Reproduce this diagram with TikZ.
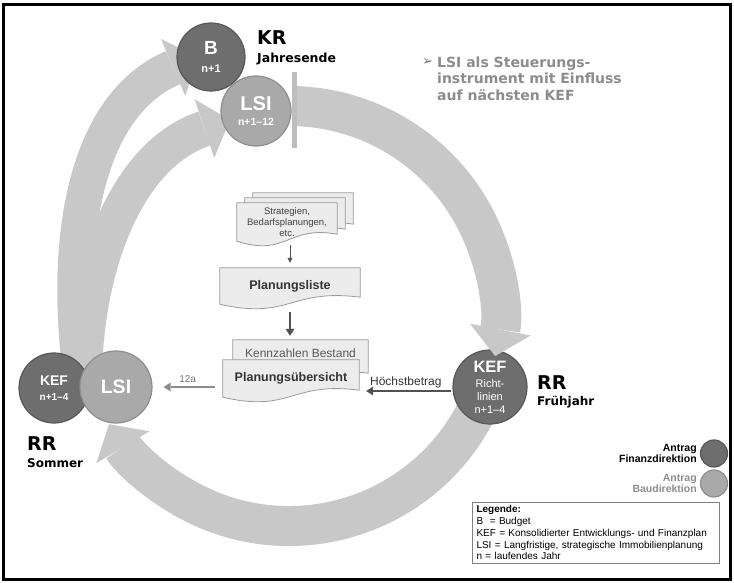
\documentclass[tikz,border=0pt]{standalone}
\usepackage{fontspec}
\setmainfont{Liberation Sans}
\newfontfamily\verd{DejaVu Sans}
\usetikzlibrary{arrows.meta}
\usetikzlibrary{calc}
\usetikzlibrary{positioning}
\usetikzlibrary{backgrounds}

\definecolor{fdgray}{HTML}{6E6E6E}
\definecolor{fdedge}{HTML}{575757}
\definecolor{bdgray}{HTML}{A9A9A9}
\definecolor{bdedge}{HTML}{8E8E8E}
\definecolor{bandgray}{HTML}{C8C8C8}
\definecolor{bargray}{HTML}{BEBEBE}
\definecolor{docfill}{HTML}{ECECEC}
\definecolor{docedge}{HTML}{9A9A9A}
\definecolor{notegray}{HTML}{8C8C8C}

\tikzset{
  fdball/.style={circle, fill=fdgray, draw=fdedge, line width=1.2pt, text=white, align=center, inner sep=0pt, minimum size=#1},
  bdball/.style={circle, fill=bdgray, draw=bdedge, line width=1.2pt, text=white, align=center, inner sep=0pt, minimum size=#1},
  band/.style={draw=bandgray, line width=38pt, -{Triangle[width=62pt,length=27pt,line width=0pt]}},
  sheet/.style={minimum width=#1, inner sep=0pt, align=center},
  sheetline/.style={fill=docfill, draw=docedge, line width=0.8pt},
  flowarrow/.style={draw=black!68, line width=2.4pt, -{Triangle[width=9pt,length=7pt,line width=0pt]}},
  thinarrow/.style={draw=black!68, line width=0.9pt, -{Triangle[width=5pt,length=5pt,line width=0pt]}},
  tag/.style={anchor=base west, inner sep=0pt, font=\verd\bfseries},
}

% wavy sheet behind a node, #1 = extra drop of the lower edge
\newcommand\blatt[2][0]{%
  \begin{scope}[on background layer]
    \filldraw[sheetline] (#2.north west) -- (#2.north east) -- ($(#2.south east)+(0,#1-7)$)
      .. controls ($(#2.south)+(0,#1-16)$) and ($(#2.south)+(0,#1+16)$) .. ($(#2.south west)+(0,#1)$) -- cycle;
  \end{scope}}

\begin{document}
\begin{tikzpicture}[x=1pt, y=-1pt]
\useasboundingbox (0,0) rectangle (734,583);
\draw[line width=3pt] (3.5,4.5) rectangle (730.5,579.5);

\coordinate (ctr) at (289,316);

% Pfeile links und unten
\draw[band, line width=36pt] (82,382) .. controls (62,240) and (85,105) .. (198,57);
\draw[band, line width=36pt] (84,382) .. controls (84,270) and (125,155) .. (230,120);
\draw[band, line width=40pt] ($(ctr)+(25:210)$) arc[start angle=25, end angle=149, radius=210];

% Kreise
\node[fdball=68pt, font=\bfseries\fontsize{11}{13}\selectfont] (bud) at (211,57) {{\fontsize{19}{19}\selectfont B}\\[5pt]n+1};
\node[bdball=70pt, font=\bfseries\fontsize{10.5}{12.5}\selectfont] (lsiT) at (256,111) {{\fontsize{20}{20}\selectfont LSI}\\[2.5pt]n+1–12};
\node[fdball=70pt, font=\bfseries\fontsize{10}{12}\selectfont] (kefL) at (54,388) {{\fontsize{14}{14}\selectfont KEF}\\[3pt]n+1–4};
\node[bdball=72pt, font=\bfseries] (lsiL) at (116,387) {{\fontsize{19.5}{19.5}\selectfont LSI}};
\node[fdball=74pt, font=\fontsize{11}{13}\selectfont] (kefR) at (490,387) {{\bfseries\fontsize{16.5}{16.5}\selectfont KEF}\\[2pt]Richt-\\linien\\n+1–4};

% Bogen rechts
\draw[band, line width=40pt] ($(ctr)+(-88:210)$) arc[start angle=-88, end angle=11, radius=210];
\fill[bargray] (292,72) rectangle (297,148);

% Zeitpunkte
\node[tag, font=\verd\bfseries\fontsize{19}{19}\selectfont] (krtitel) at (257,45) {KR};
\node[tag, font=\verd\bfseries\fontsize{12.5}{14}\selectfont] (krzeit) at (257,63) {Jahresende};
\node[tag, font=\verd\bfseries\fontsize{19}{19}\selectfont] (rrtitel) at (537,389) {RR};
\node[tag, font=\verd\bfseries\fontsize{12}{14}\selectfont] (rrzeit) at (537,405) {Frühjahr};
\node[tag, font=\verd\bfseries\fontsize{19}{19}\selectfont] (sotitel) at (27,450) {RR};
\node[tag, font=\verd\bfseries\fontsize{12}{14}\selectfont] (sozeit) at (27,467) {Sommer};

% Hinweis
\node[inner sep=0pt, text=black!55, font=\verd\fontsize{13}{13}\selectfont] (pfeil) at (427.5,62) {➢};
\node[anchor=north west, inner sep=0pt, align=left, text=notegray, font=\verd\bfseries\fontsize{14}{16.5}\selectfont] (hinweis) at (437,56.5) {LSI als Steuerungs-\\instrument mit Einfluss\\auf nächsten KEF};

% Planungsablauf
\node[sheet=100pt, minimum height=38pt] (strat3) at (303,212) {};
\blatt{strat3}
\node[sheet=100pt, minimum height=38pt] (strat2) at (295,217) {};
\blatt{strat2}
\node[sheet=100pt, minimum height=38pt, text=black!75, font=\fontsize{9.5}{11}\selectfont] (strat) at (287,222) {Strategien,\\Bedarfsplanungen,\\etc.};
\blatt{strat}
\node[sheet=140pt, minimum height=36pt, text=black!80, font=\bfseries\fontsize{12.5}{14}\selectfont] (liste) at (290,286) {Planungsliste};
\blatt{liste}
\node[sheet=135pt, minimum height=26pt, text=black!65, font=\fontsize{12}{14}\selectfont] (bestand) at (300.5,353) {Kennzahlen Bestand};
\blatt[14]{bestand}
\node[sheet=136pt, minimum height=37pt, text=black!80, font=\bfseries\fontsize{12.5}{14}\selectfont] (uebersicht) at (291,378.5) {Planungsübersicht};
\blatt{uebersicht}

\draw[thinarrow, shorten <=4pt, shorten >=5pt] (liste.north |- strat.south) -- (liste.north);
\draw[flowarrow, shorten <=8pt, shorten >=4pt] (liste.south) -- (liste.south |- bestand.north);
\coordinate (hb) at ([yshift=-4pt]kefR.west);
\draw[flowarrow, shorten <=1pt, shorten >=7pt] (hb) -- (hb -| uebersicht.east)
  node[midway, above=2pt, inner sep=0pt, text=black!80, font=\fontsize{12}{14}\selectfont] (hbtext) {Höchstbetrag};
\draw[flowarrow, draw=black!45, line width=2pt, shorten <=8pt, shorten >=11pt] (uebersicht.west |- lsiL.east) -- (lsiL.east)
  node[midway, above=3pt, inner sep=0pt, text=black!55, font=\fontsize{10}{12}\selectfont] (zwoelfa) {12a};

% Legende
\node[fdball=27pt] (legFD) at (714,453.5) {};
\node[bdball=27pt] (legBD) at (714,483.5) {};
\node[left=3pt of legFD, align=right, inner sep=0pt, font=\bfseries\fontsize{10.5}{11.5}\selectfont] (legFDtext) {Antrag\\Finanzdirektion};
\node[left=3pt of legBD, align=right, inner sep=0pt, text=notegray, font=\bfseries\fontsize{10.5}{11.5}\selectfont] (legBDtext) {Antrag\\Baudirektion};
\node[draw=black!50, line width=1pt, anchor=north west, align=left, inner xsep=4pt, inner ysep=3pt, text width=239pt, font=\fontsize{10}{11.8}\selectfont] (legende) at (472,502)
  {\textbf{Legende:}\\B\ \ = Budget\\KEF = Konsolidierter Entwicklungs- und Finanzplan\\LSI = Langfristige, strategische Immobilienplanung\\n = laufendes Jahr};
\end{tikzpicture}
\end{document}
